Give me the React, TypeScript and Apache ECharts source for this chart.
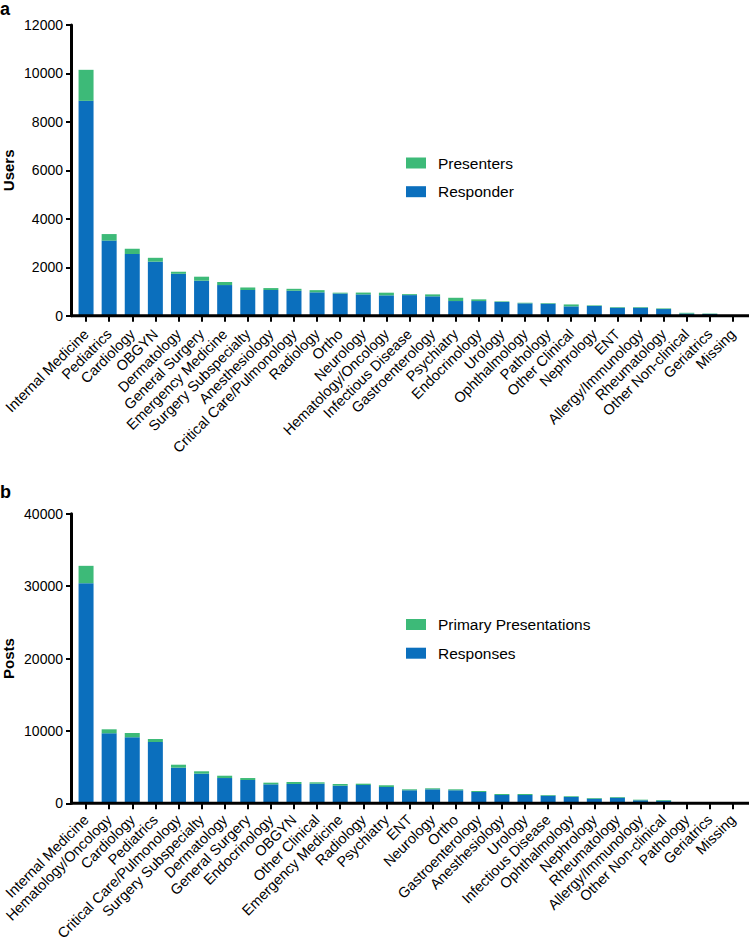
import React, { useEffect, useRef } from "react";
import * as echarts from "echarts";

const catsA = ["Internal Medicine","Pediatrics","Cardiology","OBGYN","Dermatology","General Surgery","Emergency Medicine","Surgery Subspecialty","Anesthesiology","Critical Care/Pulmonology","Radiology","Ortho","Neurology","Hematology/Oncology","Infectious Disease","Gastroenterology","Psychiatry","Endocrinology","Urology","Ophthalmology","Pathology","Other Clinical","Nephrology","ENT","Allergy/Immunology","Rheumatology","Other Non-clinical","Geriatrics","Missing"];
const responderA = [8870,3100,2545,2230,1730,1445,1265,1060,1060,1030,965,915,880,840,850,800,605,605,565,510,495,385,400,330,330,275,90,75,0];
const presentersA = [1280,270,215,160,85,165,125,105,80,80,90,35,75,110,40,80,135,70,25,25,25,80,25,25,25,25,30,15,0];

const catsB = ["Internal Medicine","Hematology/Oncology","Cardiology","Pediatrics","Critical Care/Pulmonology","Surgery Subspecialty","Dermatology","General Surgery","Endocrinology","OBGYN","Other Clinical","Emergency Medicine","Radiology","Psychiatry","ENT","Neurology","Ortho","Gastroenterology","Anesthesiology","Urology","Infectious Disease","Ophthalmology","Nephrology","Rheumatology","Allergy/Immunology","Other Non-clinical","Pathology","Geriatrics","Missing"];
const responsesB = [30400,9670,9120,8470,4920,4090,3490,3220,2620,2670,2710,2430,2530,2250,1800,1930,1800,1560,1150,1150,1050,870,635,775,415,360,0,0,0];
const primaryB = [2400,550,590,410,410,330,320,270,230,270,190,240,180,240,130,140,130,140,135,135,100,100,95,95,85,95,0,0,0];

const ticksA = { min: 0, max: 12000, interval: 2000 };
const ticksB = { min: 0, max: 40000, interval: 10000 };

const BLUE = "#0B6FBD";
const GREEN = "#3DBA78";
const FONT = "Liberation Sans, Arial, Helvetica, sans-serif";

const GRID_LEFT = 74.5;
const GRID_W = 670;
const A_TOP = 25;
const A_H = 290.7;
const B_TOP = 513.7;
const B_H = 289.6;

export default function App() {
  const ref = useRef<HTMLDivElement>(null);
  useEffect(() => {
    if (!ref.current) return;
    const chart = echarts.init(ref.current, undefined, { renderer: "svg" });
    const xAxisBase = (data: string[], gridIndex: number, margin: number) => ({
      type: "category",
      gridIndex,
      data,
      boundaryGap: true,
      axisLine: { show: false },
      axisTick: { show: true, alignWithLabel: true, length: 6, lineStyle: { color: "#000", width: 2 } },
      axisLabel: {
        interval: 0,
        rotate: 45,
        fontSize: 14.5,
        color: "#000",
        fontFamily: FONT,
        margin,
        align: "right",
        verticalAlign: "middle",
      },
    });
    const yAxisBase = (gridIndex: number, t: any, name: string) => ({
      type: "value",
      gridIndex,
      min: t.min,
      max: t.max,
      interval: t.interval,
      offset: 3.5,
      name,
      nameLocation: "middle",
      nameGap: 55,
      nameMoveOverlap: false,
      nameTextStyle: { fontWeight: "bold", fontSize: 15, lineHeight: 15, color: "#000", fontFamily: FONT },
      axisLine: { show: true, lineStyle: { color: "#000", width: 3 } },
      axisTick: { show: true, length: 5, lineStyle: { color: "#000", width: 2 } },
      splitLine: { show: false },
      axisLabel: { fontSize: 14, color: "#000", fontFamily: FONT, margin: 8, formatter: (v: number) => String(v) },
    });
    const bar = (name: string, data: number[], idx: number, color: string, stack: string) => ({
      type: "bar",
      name,
      data,
      xAxisIndex: idx,
      yAxisIndex: idx,
      stack,
      barWidth: 15,
      itemStyle: { color },
    });
    const aZero = A_TOP + A_H;
    const bZero = B_TOP + B_H;
    const legendText = { fontSize: 15.5, color: "#000", fontFamily: FONT, padding: [0, 0, 0, 7], lineHeight: 15 };
    chart.setOption({
      animation: false,
      backgroundColor: "#fff",
      textStyle: { fontFamily: FONT },
      grid: [
        { left: GRID_LEFT, top: A_TOP, width: GRID_W, height: A_H, containLabel: false, outerBoundsMode: "none" },
        { left: GRID_LEFT, top: B_TOP, width: GRID_W, height: B_H, containLabel: false, outerBoundsMode: "none" },
      ],
      xAxis: [xAxisBase(catsA, 0, 16), xAxisBase(catsB, 1, 14)],
      yAxis: [yAxisBase(0, ticksA, "Users"), yAxisBase(1, ticksB, "Posts")],
      legend: [
        {
          data: ["Presenters", "Responder"],
          orient: "vertical",
          left: 406,
          top: 155,
          padding: 0,
          itemWidth: 20,
          itemHeight: 11,
          itemGap: 12.7,
          icon: "rect",
          textStyle: legendText,
        },
        {
          data: ["Primary Presentations", "Responses"],
          orient: "vertical",
          left: 406,
          top: 616.5,
          padding: 0,
          itemWidth: 20,
          itemHeight: 11,
          itemGap: 12.7,
          icon: "rect",
          textStyle: legendText,
        },
      ],
      series: [
        bar("Responder", responderA, 0, BLUE, "a"),
        bar("Presenters", presentersA, 0, GREEN, "a"),
        bar("Responses", responsesB, 1, BLUE, "b"),
        bar("Primary Presentations", primaryB, 1, GREEN, "b"),
      ],
      graphic: [
        { type: "line", shape: { x1: 71, y1: aZero, x2: 749, y2: aZero }, style: { stroke: "#000", lineWidth: 3 }, z: 10 },
        { type: "line", shape: { x1: 71, y1: bZero, x2: 749, y2: bZero }, style: { stroke: "#000", lineWidth: 3 }, z: 10 },
        { type: "text", left: 0, top: 0, style: { text: "a", font: `bold 18px ${FONT}`, fill: "#000" } },
        { type: "text", left: 0, top: 483, style: { text: "b", font: `bold 18px ${FONT}`, fill: "#000" } },
      ],
    });
    return () => chart.dispose();
  }, []);
  return (
    <div
      ref={ref}
      style={{ position: "absolute", left: 0, top: 0, width: 749, height: 941, background: "#fff" }}
    />
  );
}
